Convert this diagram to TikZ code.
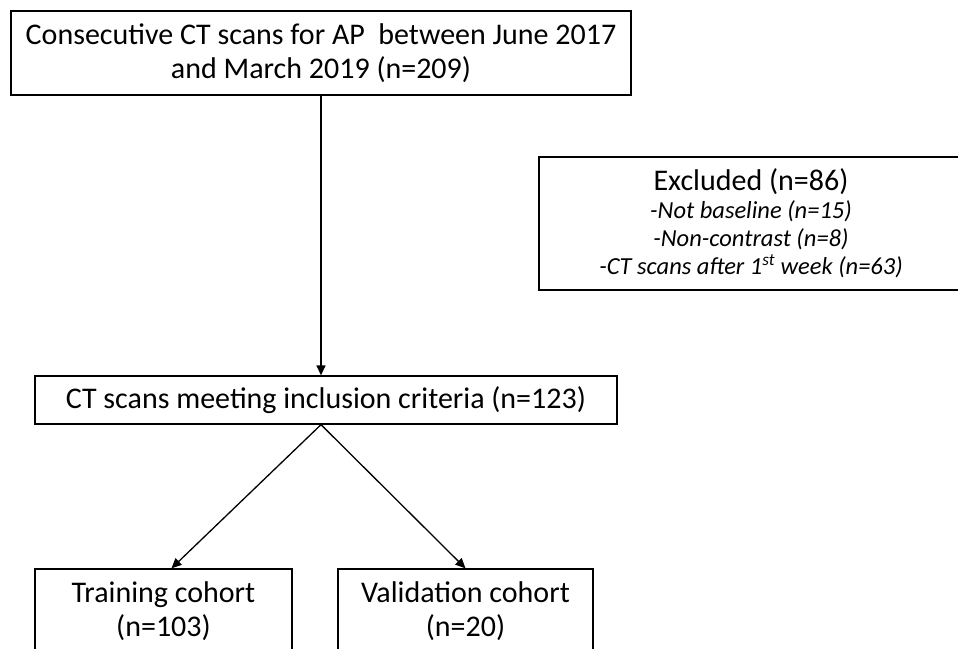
\documentclass[tikz,border=0pt]{standalone}
\usepackage{fontspec}
\setmainfont{Carlito}
\usetikzlibrary{arrows.meta}

\begin{document}
\begin{tikzpicture}[x=1pt, y=-1pt,
    box/.style={draw, line width=1.3pt, align=center, inner sep=0pt,
      font=\fontsize{30}{34}\selectfont},
    arr/.style={line width=1.3pt, -{Triangle[length=10pt, width=9pt]}}]
        \useasboundingbox (0,0) rectangle (958,648);
        \clip (0,0) rectangle (958,648);
        \node[box, minimum width=620pt, minimum height=84pt] (top) at (321,53)
          {Consecutive CT scans for AP\ \ between June 2017\\ and March 2019 (n=209)};
        \node[box, minimum width=424pt, minimum height=133pt,
          font=\fontsize{24.5}{28}\selectfont] (excl) at (751,223.5)
          {{\fontsize{30}{30}\selectfont Excluded (n=86)}\\
           \textit{-Not baseline (n=15)}\\
           \textit{-Non-contrast (n=8)}\\
           \textit{-CT scans after 1\textsuperscript{st} week (n=63)}};
        \node[box, minimum width=582pt, minimum height=48pt] (mid) at (326,400)
          {CT scans meeting inclusion criteria (n=123)};
        \node[box, minimum width=257pt, minimum height=85pt] (train) at (163.5,611.5)
          {Training cohort\\ (n=103)};
        \node[box, minimum width=255pt, minimum height=85pt] (valid) at (465.5,611.5)
          {Validation cohort\\ (n=20)};
        % flow
        \draw[arr] (top.south) -- (top.south |- mid.north);
        \draw[arr] (top.south |- mid.south) -- ([xshift=8pt]train.north);
        \draw[arr] (top.south |- mid.south) -- (valid.north);
     \end{tikzpicture}
\end{document}
